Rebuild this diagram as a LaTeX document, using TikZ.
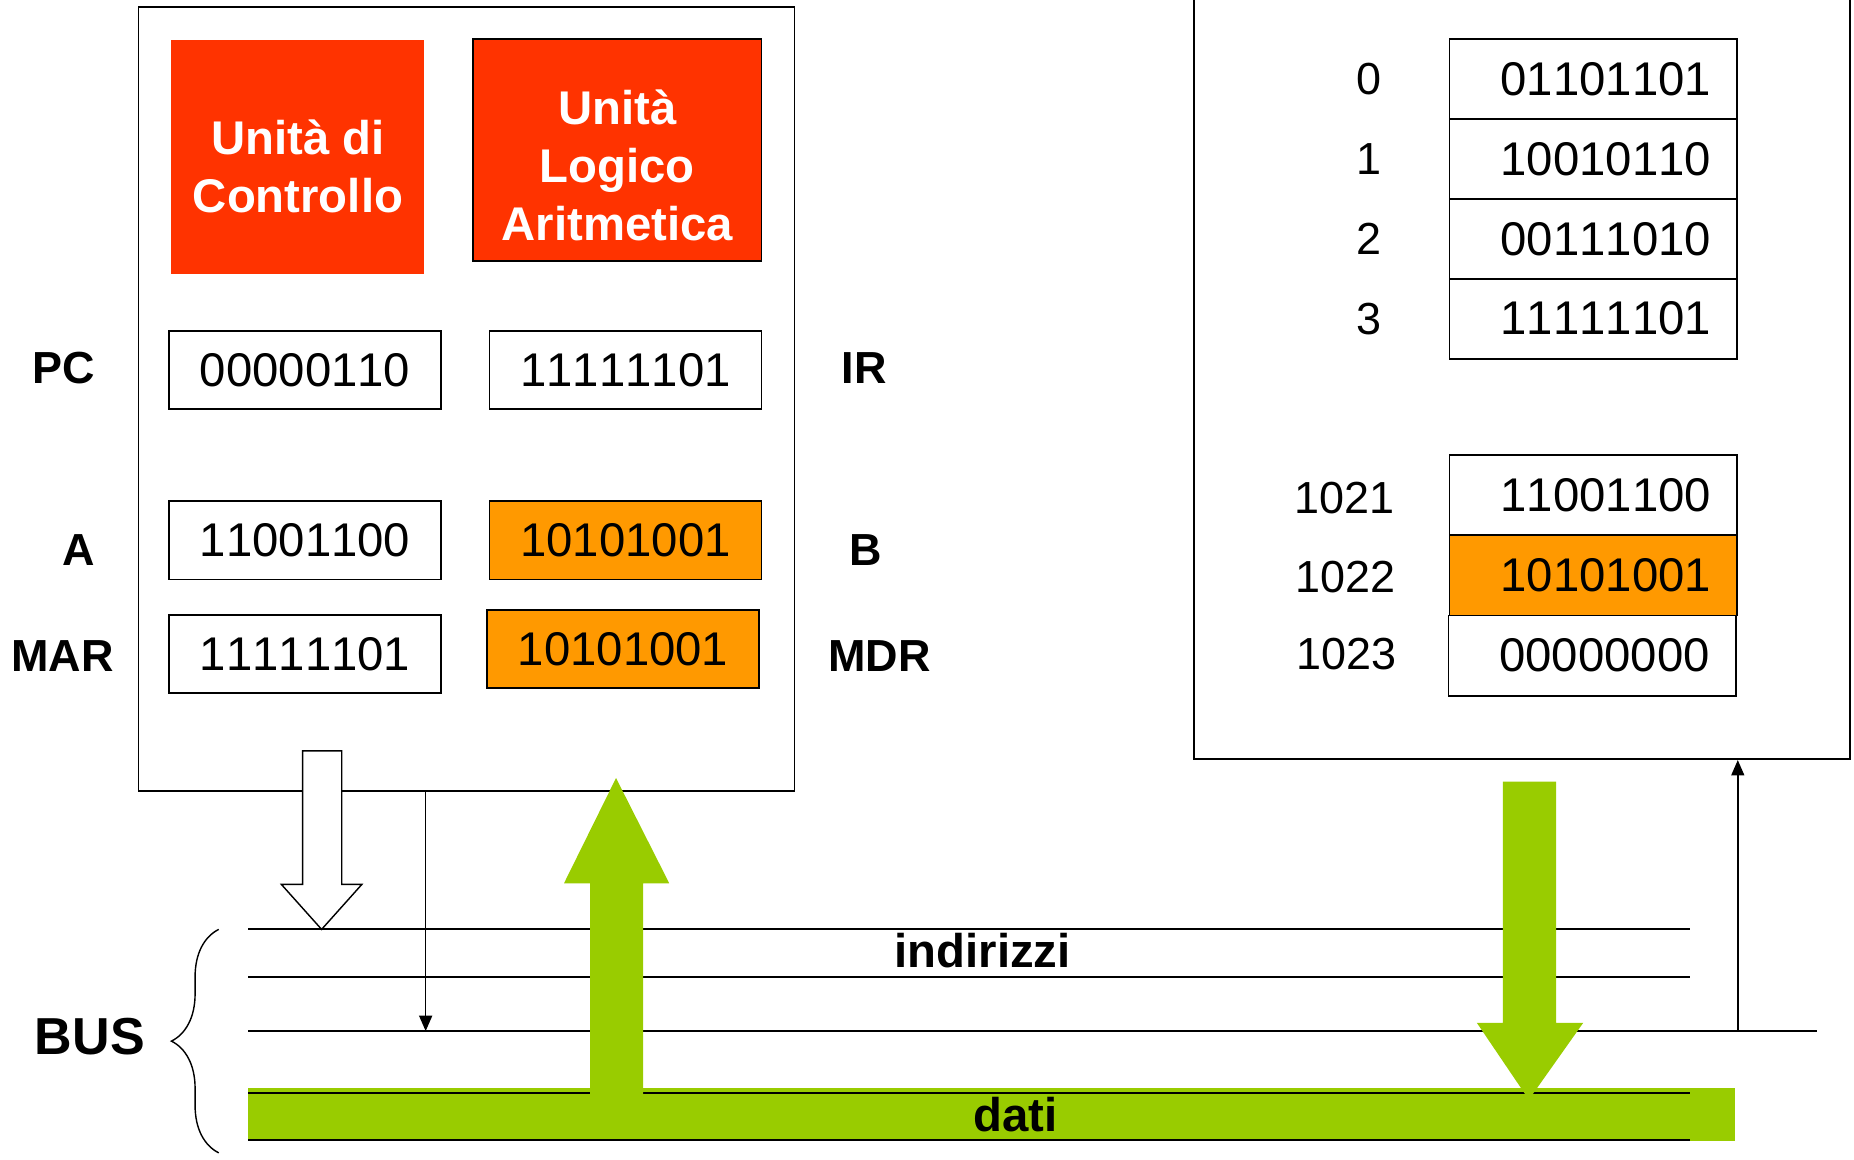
\documentclass[tikz,border=0pt]{standalone}
\usepackage{fontspec}
\setmainfont[Kerning=Off]{Liberation Sans}
\usepackage{tikz}
\usetikzlibrary{positioning,arrows.meta,decorations.pathreplacing}

\definecolor{cured}{HTML}{FF3300}
\definecolor{regorange}{HTML}{FF9900}
\definecolor{busgreen}{HTML}{99CC00}

\tikzset{
  unitbox/.style={fill=cured, minimum width=107pt, minimum height=99pt},
  unittext/.style={text=white, align=center, font=\fontsize{20}{24.5}\selectfont\bfseries},
  reg/.style={draw, line width=0.75pt, minimum width=115pt, minimum height=33pt, inner sep=0pt, font=\fontsize{20}{23}\selectfont},
  cell/.style={draw, line width=0.7pt, minimum width=121.5pt, minimum height=34pt, inner xsep=11pt, inner ysep=0pt, text width=99.5pt, align=right, font=\fontsize{20}{23}\selectfont},
  reglabel/.style={font=\fontsize{19}{23}\selectfont\bfseries},
  addr/.style={font=\fontsize{19}{23}\selectfont},
  busline/.style={line width=0.8pt},
  wire/.style={line width=0.6pt, -{Triangle[length=6.5pt,width=5.5pt]}},
}

\begin{document}
\begin{tikzpicture}[x=0.5pt, y=-0.5pt]
    \useasboundingbox (0,0) rectangle (1568,981);
    % CPU and memory
    \node[draw, line width=0.7pt, minimum width=277.5pt, minimum height=331.5pt] (cpu) at (394.5,337.5) {};
    \node[draw, line width=0.8pt, minimum width=277.5pt, minimum height=326pt] (mem) at (1287,316) {};
    % Units
    \node[unitbox] (cu) at (252,133) {};
    \node[unittext] (cu-txt) at (252,141) {Unità di\\Controllo};
    \node[unitbox, draw, line width=0.7pt, minimum width=122pt, minimum height=94pt] (alu) at (522,127) {};
    \node[unittext] (alu-txt) at (522,140) {Unità\\Logico\\Aritmetica};
    % Registers
    \node[reg] (pc) at (258,313) {00000110};
    \node[reg] (ir) at (529,313) {11111101};
    \node[reg] (a) at (258,457) {11001100};
    \node[reg, fill=regorange] (b) at (529,457) {10101001};
    \node[reg] (mar) at (258,553) {11111101};
    \node[reg, fill=regorange] (mdr) at (527,549) {10101001};
    \node[reglabel] (pc-lbl) at (54,311) {PC};
    \node[reglabel] (ir-lbl) at (731,311) {IR};
    \node[reglabel] (a-lbl) at (67,465) {A};
    \node[reglabel] (b-lbl) at (732,465) {B};
    \node[reglabel] (mar-lbl) at (53,555) {MAR};
    \node[reglabel] (mdr-lbl) at (744,555) {MDR};
    % Memory cells
    \foreach \v [count=\i from 0] in {01101101,10010110,00111010,11111101} {
        \node[cell] (m\i) at (1347.5,67+67.5*\i) {\v};
        \node[addr] (addr\i) at (1158,0 |- m\i) {\i};
    }
    \node[cell] (m1021) at (1347.5,419) {11001100};
    \node[cell, fill=regorange] (m1022) at (1347.5,486.5) {10101001};
    \node[cell] (m1023) at (1346.5,554.5) {00000000};
    \node[addr] (addr1021) at (1137,421) {1021};
    \node[addr] (addr1022) at (1138,488) {1022};
    \node[addr] (addr1023) at (1139,553) {1023};
    % Bus
    \fill[busgreen] (210,920) rectangle (1467,965);
    \foreach \n/\y/\xe in {ind1/786/1429, ind2/826/1429, ctl/872/1537, dat1/924/1429, dat2/964/1429}
        \draw[busline] (210,\y) coordinate (\n-w) -- (\xe,\y) coordinate (\n-e);
    \draw[line width=0.6pt, decorate, decoration={brace, amplitude=20pt}] (185,975) -- (185,786);
    \node[font=\fontsize{22}{26}\selectfont\bfseries] (bus) at (76,877) {BUS};
    \node[font=\fontsize{20}{24}\selectfont\bfseries] (ind-lbl) at (831,804) {indirizzi};
    % Control wires
    \coordinate (tap) at (360,0);
    \draw[wire] (tap |- cpu.south) -- (tap |- ctl-w);
    \draw[wire] (ctl-w -| m0.east) -- (mem.south -| m0.east);
    % Data arrows
    \fill[busgreen] (499,926) -- (499,747) -- (477,747) -- (521,658) -- (566,747) -- (544,747) -- (544,926) -- cycle;
    \fill[busgreen] (1271,661) -- (1271,865) -- (1249,865) -- (1293,930) -- (1339,865) -- (1316,865) -- (1316,661) -- cycle;
    \node[font=\fontsize{20}{24}\selectfont\bfseries] (dat-lbl) at (859,943) {dati};
    % Address arrow
    \draw[fill=white, line width=0.6pt] (256,635) -- (256,748) -- (238,748) -- (272,786) -- (306,748) -- (289,748) -- (289,635) -- cycle;
\end{tikzpicture}
\end{document}
